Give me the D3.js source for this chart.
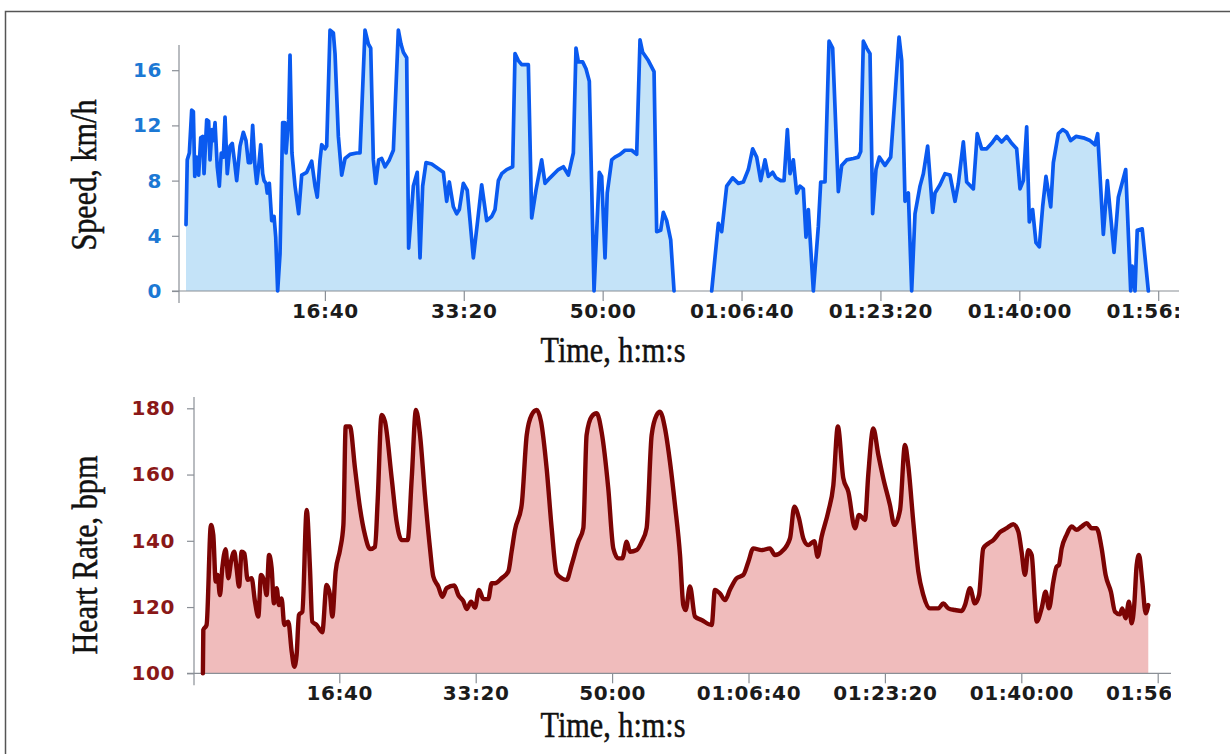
<!DOCTYPE html>
<html>
<head>
<meta charset="utf-8">
<script src="https://cdn.jsdelivr.net/npm/d3@7"></script>
<style>
  html, body { margin: 0; padding: 0; background: #fff; }
  svg { display: block; }
</style>
</head>
<body>
<svg id="chart" width="1230" height="754"></svg>
<script>
// ---------------- DATA ----------------
const timeTicks = [1000, 2000, 3000, 4000, 5000, 6000, 7000];
const timeTickLabels = ["16:40", "33:20", "50:00", "01:06:40", "01:23:20", "01:40:00", "01:56:40"];
const speedTicks = [0, 4, 8, 12, 16];
const hrTicks = [100, 120, 140, 160, 180];

// elapsed time (s) and speed (km/h); null = no data
const speedTime = [0,9,24,41,53,63,77,91,106,120,130,149,163,173,187,197,209,225,240,254,269,281,297,317,333,348,365,389,413,432,449,466,480,497,509,523,538,552,562,576,585,600,617,634,646,660,677,696,711,720,739,749,763,785,811,833,869,905,929,945,965,977,1001,1013,1037,1061,1073,1097,1121,1145,1181,1229,1253,1289,1313,1330,1349,1366,1387,1409,1433,1464,1493,1529,1548,1565,1589,1603,1637,1665,1685,1704,1728,1769,1853,1877,1896,1925,1949,1968,1997,2025,2045,2069,2100,2129,2165,2201,2225,2249,2273,2309,2352,2369,2393,2417,2465,2489,2520,2561,2585,2621,2681,2717,2753,2789,2808,2825,2856,2880,2904,2938,2976,2993,3017,3033,3065,3089,3125,3161,3209,3245,3269,3288,3329,3370,3389,3418,3437,3461,3490,3514,3650,3785,3833,3857,3893,3936,3977,4013,4049,4080,4109,4138,4169,4193,4224,4248,4282,4306,4330,4349,4373,4397,4421,4445,4464,4481,4517,4553,4570,4601,4630,4656,4697,4721,4757,4805,4841,4858,4877,4901,4925,4944,4968,4992,5033,5074,5105,5134,5153,5177,5201,5225,5249,5285,5309,5340,5376,5393,5429,5465,5501,5537,5561,5597,5621,5669,5697,5729,5765,5801,5837,5873,5909,5945,5981,6005,6029,6053,6072,6096,6120,6144,6168,6192,6226,6245,6281,6312,6341,6370,6408,6461,6509,6545,6564,6605,6634,6682,6713,6766,6802,6813,6833,6849,6885,6929];
const speedKmh = [4.8,9.5,10.0,13.1,13.0,8.3,9.7,8.4,11.1,11.2,8.5,12.4,12.3,9.5,11.7,10.9,12.2,9.0,7.6,10.0,9.7,12.6,8.5,10.5,10.7,9.5,8.0,10.5,11.5,10.9,9.3,9.3,12.0,9.0,7.8,9.0,10.6,8.5,8.0,7.8,7.1,7.8,5.1,5.4,3.9,0,2.7,12.2,12.2,10.0,12.4,17.1,10.0,7.6,5.6,8.4,8.6,9.4,7.6,6.8,9.5,10.6,10.3,10.5,18.9,18.7,17.2,11.2,8.4,9.6,9.9,10.0,10.0,18.9,17.9,17.6,9.5,7.8,9.5,9.6,9.0,9.5,10.2,18.9,17.9,17.3,16.9,3.1,7.6,8.6,2.4,7.6,9.3,9.2,8.6,6.5,7.9,6.1,5.6,5.9,7.8,7.3,5.1,2.4,5.1,7.7,5.1,5.4,5.9,8.0,8.5,8.8,9.0,17.2,16.7,16.4,16.4,5.3,7.3,9.5,7.8,8.2,8.8,9.0,8.4,10.0,17.6,16.6,16.6,16.1,15.2,0,8.6,8.3,2.4,7.1,9.5,9.7,9.9,10.2,10.2,9.9,18.2,17.3,16.7,15.9,4.3,4.4,5.7,5.1,3.7,0,null,0,4.9,4.3,7.6,8.2,7.8,7.9,8.8,10.3,9.7,8.0,9.5,8.3,8.6,8.2,8.0,8.0,11.7,8.5,9.5,7.1,7.6,7.4,3.9,5.9,0,4.7,7.9,7.9,18.1,17.6,7.2,9.1,9.5,9.6,9.7,10.1,18.1,17.6,17.2,5.6,8.8,9.7,9.1,9.7,14.1,18.4,16.7,6.5,7.1,0,5.6,7.6,8.5,10.5,5.7,7.1,7.7,8.5,8.4,6.5,7.8,10.8,7.9,7.4,11.4,10.3,10.3,10.7,11.2,10.8,11.2,10.7,10.3,7.4,8.0,11.9,5.0,5.9,3.5,3.2,6.1,8.3,6.1,9.3,11.4,11.7,11.5,10.9,11.2,11.1,10.9,10.6,11.4,4.1,8.0,2.8,6.8,8.8,0,1.8,0,4.4,4.5,0];

// elapsed time (s) and heart rate (bpm)
const hrTime = [0,3,27,59,76,94,108,125,142,167,186,206,230,247,265,284,304,328,357,382,406,426,450,467,485,504,521,541,558,577,597,626,651,670,687,704,729,761,785,802,834,875,907,932,949,973,1005,1030,1047,1078,1115,1152,1188,1225,1262,1281,1310,1335,1384,1420,1457,1501,1531,1562,1592,1628,1665,1689,1726,1755,1787,1843,1873,1909,1934,1966,1995,2024,2056,2092,2117,2141,2190,2239,2263,2288,2337,2374,2410,2447,2479,2520,2557,2593,2630,2667,2703,2752,2789,2813,2850,2887,2923,2972,3009,3046,3075,3107,3131,3180,3217,3253,3290,3327,3351,3388,3424,3461,3498,3522,3539,3571,3608,3656,3730,3754,3791,3828,3864,3913,3962,3999,4035,4096,4157,4194,4243,4304,4336,4370,4402,4438,4482,4507,4536,4585,4622,4655,4695,4732,4781,4810,4854,4878,4915,4952,4988,5037,5069,5111,5147,5172,5208,5245,5282,5330,5392,5428,5465,5514,5563,5587,5624,5660,5690,5721,5758,5795,5844,5893,5941,5978,6002,6027,6051,6076,6100,6112,6149,6178,6203,6235,6259,6276,6296,6332,6369,6406,6442,6479,6516,6552,6589,6618,6657,6687,6723,6740,6765,6789,6809,6828,6846,6863,6887,6912,6931];
const hrBpm = [100,113.1,114.6,144.8,141.8,127.7,129.7,123.6,131.7,137.5,128.7,133.7,136.7,131.7,126.2,136.7,136.2,128.2,128.7,121.6,117.1,129.7,127.7,123.6,135.7,131.7,121.1,125.7,120.6,122.6,114.6,115.6,106.5,102.0,105.5,117.6,118.6,149.3,131.7,115.6,114.6,112.4,126.7,123.6,117.1,130.7,137.2,144.8,174.5,174.5,161.9,149.8,141.8,137.5,138.2,151.8,178.0,176.0,158.9,145.8,140.2,140.2,158.9,179.5,171.9,153.8,137.7,129.2,126.2,123.1,125.7,126.5,123.6,121.8,119.4,121.6,119.8,125.2,122.4,122.4,127.2,127.2,128.7,130.7,136.7,143.3,150.8,171.9,178.0,179.5,176.0,161.9,143.8,130.2,128.7,128.2,132.7,139.7,143.8,171.9,177.5,178.5,172.9,155.8,137.7,134.7,134.7,139.7,136.7,137.2,139.7,143.8,171.9,178.0,179.0,173.9,163.9,150.8,135.7,120.6,119.1,126.2,117.1,116.1,114.6,125.2,124.1,122.1,125.2,128.7,129.7,133.7,137.7,137.2,137.7,135.7,136.7,140.7,150.3,146.8,140.7,138.7,139.9,135.2,141.2,148.8,156.8,174.5,158.9,154.8,143.8,147.8,146.3,159.9,173.9,165.9,158.9,150.8,144.8,149.3,168.9,162.4,145.8,130.7,123.6,119.6,119.6,121.1,119.6,119.1,118.8,120.6,125.7,121.1,123.6,137.7,139.2,140.2,142.6,143.8,145.0,142.8,136.7,129.7,137.2,135.7,121.6,115.6,119.6,124.6,119.6,127.7,132.2,132.7,137.7,141.8,144.3,143.3,144.3,145.3,143.8,143.8,137.7,129.7,124.6,118.6,117.8,119.6,116.6,121.6,115.1,120.6,132.7,135.7,127.7,118.1,120.6];

// ---------------- DRAW ----------------
const svg = d3.select("#chart");
const defs = svg.append("defs");

// page frame (only top and left edges visible)
svg.append("path").attr("d", "M5.5,754 V11.5 H1230")
  .attr("fill", "none").attr("stroke", "#555").attr("stroke-width", 1.5);

const tickFont = "'DejaVu Sans', Verdana, sans-serif";
const titleFont = "'Liberation Serif', 'Times New Roman', serif";

function panel(cfg) {
  const data = cfg.times.map((t, i) => ({ t: t, v: cfg.values[i] }));
  const x = d3.scaleLinear().domain([0, 7000]).range(cfg.xRange);
  const y = d3.scaleLinear().domain(cfg.yDomain).range(cfg.yRange);
  const base = y(cfg.yDomain[0]);

  const clipId = cfg.id + "-clip";
  defs.append("clipPath").attr("id", clipId)
    .append("rect").attr("x", 0).attr("y", 0).attr("width", cfg.clipRight).attr("height", 754);

  const g = svg.append("g").attr("clip-path", `url(#${clipId})`);

  const area = d3.area().defined(d => d.v != null)
    .x(d => x(d.t)).y0(base).y1(d => y(d.v)).curve(cfg.curve);
  const line = d3.line().defined(d => d.v != null)
    .x(d => x(d.t)).y(d => y(d.v)).curve(cfg.curve);

  g.append("path").datum(data).attr("d", area).attr("fill", cfg.fill);

  // axis lines (cross style)
  g.append("line").attr("x1", cfg.axisX).attr("x2", cfg.axisX)
    .attr("y1", cfg.axisTop).attr("y2", base + 12)
    .attr("stroke", "#8a8f96").attr("stroke-width", 1.2);
  g.append("line").attr("x1", cfg.axisX - 7).attr("x2", cfg.xAxisRight)
    .attr("y1", base).attr("y2", base)
    .attr("stroke", "#8a8f96").attr("stroke-width", 1.2);

  // y axis ticks & labels
  const ya = g.append("g").attr("transform", `translate(${cfg.axisX},0)`)
    .call(d3.axisLeft(y).tickValues(cfg.yTicks).tickSize(7).tickPadding(cfg.yPad).tickSizeOuter(0));
  ya.select(".domain").remove();
  ya.selectAll(".tick line").attr("stroke", "#8a8f96").attr("stroke-width", 1.2);
  ya.selectAll(".tick text").attr("fill", cfg.tickColor)
    .style("font-family", tickFont).style("font-weight", "bold")
    .style("font-size", "20px").style("letter-spacing", "0.6px");

  // x axis ticks & labels
  const xa = g.append("g").attr("transform", `translate(0,${base})`)
    .call(d3.axisBottom(x).tickValues(timeTicks)
      .tickFormat((d, i) => timeTickLabels[i]).tickSize(10).tickPadding(cfg.xPad).tickSizeOuter(0));
  xa.select(".domain").remove();
  xa.selectAll(".tick line").attr("stroke", "#8a8f96").attr("stroke-width", 1.2);
  xa.selectAll(".tick text").attr("fill", "#1b1b1b")
    .style("font-family", tickFont).style("font-weight", "bold")
    .style("font-size", "20px").style("letter-spacing", "0.6px");

  // data line
  g.append("path").datum(data).attr("d", line)
    .attr("fill", "none").attr("stroke", cfg.stroke).attr("stroke-width", cfg.strokeWidth)
    .attr("stroke-linejoin", "round").attr("stroke-linecap", "round");

  // titles
  svg.append("text")
    .attr("transform", `translate(${cfg.yTitlePos[0]},${cfg.yTitlePos[1]}) rotate(-90) scale(0.84,1)`)
    .attr("text-anchor", "middle")
    .style("font-family", titleFont).style("font-size", "36px")
    .attr("fill", "#111").attr("stroke", "#111").attr("stroke-width", 0.5)
    .text(cfg.yTitle);
  svg.append("text")
    .attr("transform", `translate(${cfg.xTitlePos[0]},${cfg.xTitlePos[1]}) scale(0.84,1)`)
    .attr("text-anchor", "middle")
    .style("font-family", titleFont).style("font-size", "36px")
    .attr("fill", "#111").attr("stroke", "#111").attr("stroke-width", 0.5)
    .text("Time, h:m:s");
}

panel({
  id: "speed", times: speedTime, values: speedKmh,
  xRange: [186, 1158.2], yDomain: [0, 16], yRange: [291, 70.2],
  yTicks: speedTicks, tickColor: "#1c78d4",
  axisX: 179, axisTop: 45, xAxisRight: 1180, clipRight: 1179,
  yPad: 10, xPad: 3,
  fill: "#c4e3f8", stroke: "#0a5af0", strokeWidth: 3.7, curve: d3.curveLinear,
  yTitle: "Speed, km/h", yTitlePos: [96, 175], xTitlePos: [613, 362]
});

panel({
  id: "hr", times: hrTime, values: hrBpm,
  xRange: [202.9, 1157.7], yDomain: [100, 180], yRange: [673.3, 408.3],
  yTicks: hrTicks, tickColor: "#8a1818",
  axisX: 194, axisTop: 397, xAxisRight: 1177, clipRight: 1171,
  yPad: 12, xPad: 3,
  fill: "#f0bcbc", stroke: "#7c0404", strokeWidth: 4.4, curve: d3.curveMonotoneX,
  yTitle: "Heart Rate, bpm", yTitlePos: [97, 555], xTitlePos: [613, 737]
});
</script>
</body>
</html>
